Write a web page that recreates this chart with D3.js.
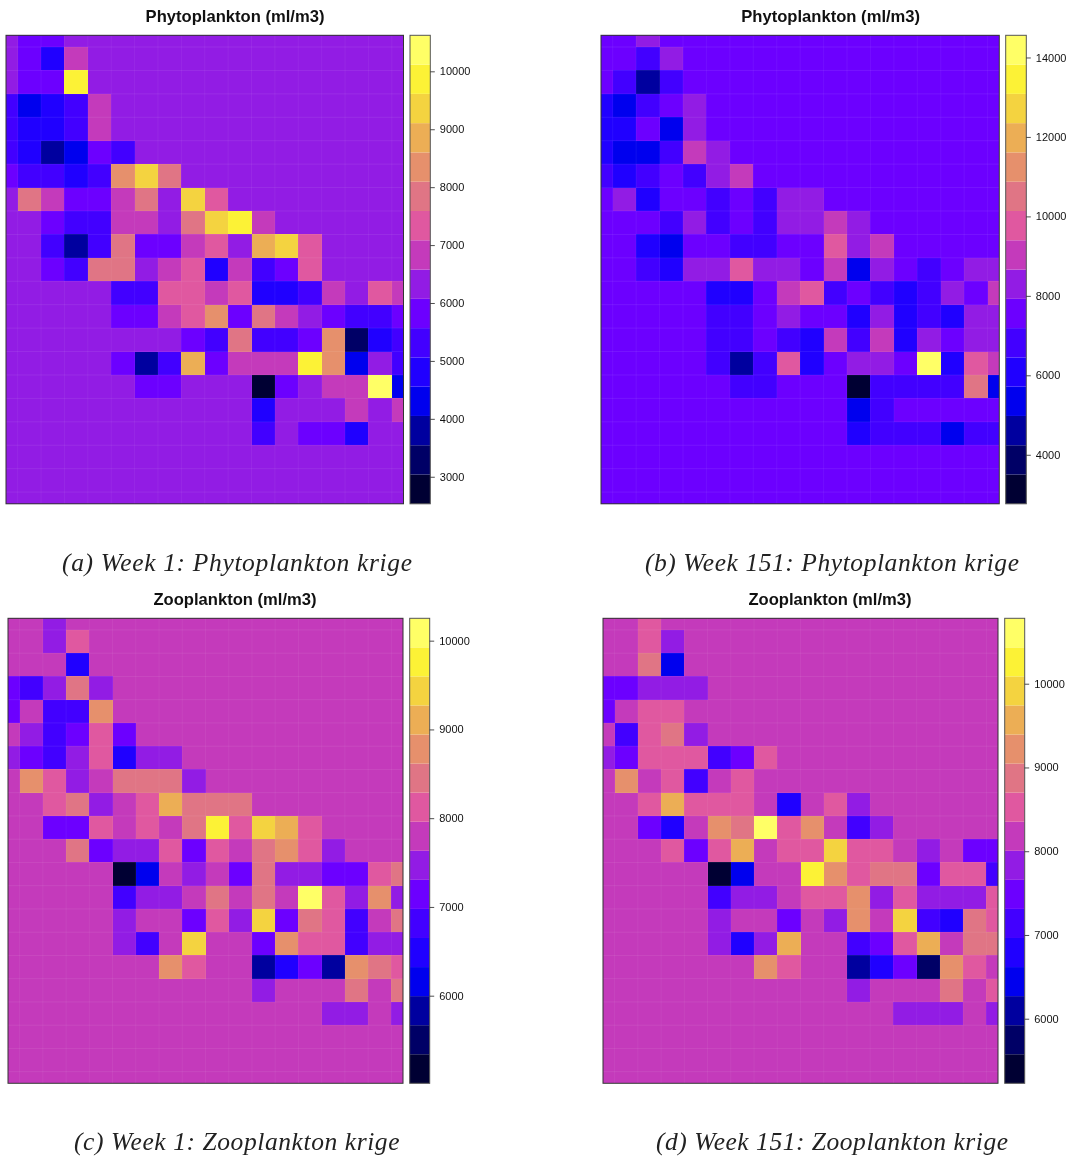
<!DOCTYPE html>
<html>
<head>
<meta charset="utf-8">
<style>
html,body{margin:0;padding:0;background:#fff;}
svg{display:block;filter:blur(0.3px);}
</style>
<script src="https://cdn.jsdelivr.net/npm/d3@7/dist/d3.min.js"></script>
</head>
<body>
<svg id="chart" width="1074" height="1160"></svg>
<script>
// Values are in hundreds of ml/m3.
const valueUnit = 100;

const phytoWeek1 = [
[63,58,58,63,63,63,63,63,63,63,63,63,63,63,63,63,63,63],
[63,58,48,68,63,63,63,63,63,63,63,63,63,63,63,63,63,63],
[63,58,58,99,63,63,63,63,63,63,63,63,63,63,63,63,63,63],
[53,43,48,53,68,63,63,63,63,63,63,63,63,63,63,63,63,63],
[53,48,48,53,68,63,63,63,63,63,63,63,63,63,63,63,63,63],
[53,48,38,43,58,53,63,63,63,63,63,63,63,63,63,63,63,63],
[58,53,53,48,53,83,94,78,63,63,63,63,63,63,63,63,63,63],
[63,78,68,58,58,68,78,63,94,73,63,63,63,63,63,63,63,63],
[63,63,58,53,53,68,68,63,78,94,99,68,63,63,63,63,63,63],
[63,63,53,38,53,78,58,58,68,73,63,89,94,73,63,63,63,63],
[63,63,58,53,78,78,63,68,73,48,68,53,58,73,63,63,63,63],
[63,63,63,63,63,53,53,73,73,68,73,48,48,53,68,63,73,68],
[63,63,63,63,63,58,58,68,73,83,58,78,68,63,58,53,53,58],
[63,63,63,63,63,63,63,63,58,53,78,53,53,58,83,33,48,53],
[63,63,63,63,63,58,38,53,89,58,68,68,68,99,83,43,63,53],
[63,63,63,63,63,63,58,58,63,63,63,28,58,63,68,68,104,43],
[63,63,63,63,63,63,63,63,63,63,63,48,63,63,63,68,63,68],
[63,63,63,63,63,63,63,63,63,63,63,53,63,58,58,48,63,63],
[63,63,63,63,63,63,63,63,63,63,63,63,63,63,63,63,63,63],
[63,63,63,63,63,63,63,63,63,63,63,63,63,63,63,63,63,63],
[63,63,63,63,63,63,63,63,63,63,63,63,63,63,63,63,63,63]
];

const phytoWeek151 = [
[76,76,83,76,76,76,76,76,76,76,76,76,76,76,76,76,76,76],
[76,76,68,83,76,76,76,76,76,76,76,76,76,76,76,76,76,76],
[76,68,46,68,76,76,76,76,76,76,76,76,76,76,76,76,76,76],
[61,53,68,76,83,76,76,76,76,76,76,76,76,76,76,76,76,76],
[61,61,76,53,83,76,76,76,76,76,76,76,76,76,76,76,76,76],
[61,53,53,68,90,83,76,76,76,76,76,76,76,76,76,76,76,76],
[68,61,68,76,68,83,90,76,76,76,76,76,76,76,76,76,76,76],
[76,83,61,76,76,68,76,68,83,83,76,76,76,76,76,76,76,76],
[76,76,76,68,83,68,76,68,83,83,90,83,76,76,76,76,76,76],
[76,76,61,53,76,76,68,68,76,76,98,83,90,76,76,76,76,76],
[76,76,68,61,83,83,98,83,83,76,90,53,83,76,68,76,83,83],
[76,76,76,76,76,61,61,76,90,98,68,76,68,61,68,83,76,90],
[76,76,76,76,76,68,68,76,83,76,76,61,83,61,68,61,83,83],
[76,76,76,76,76,68,68,76,68,61,90,68,90,61,83,76,83,83],
[76,76,76,76,76,68,46,68,98,61,76,83,83,76,142,61,98,90],
[76,76,76,76,76,76,68,68,76,76,76,31,68,68,68,68,105,53],
[76,76,76,76,76,76,76,76,76,76,76,53,68,76,76,76,76,76],
[76,76,76,76,76,76,76,76,76,76,76,61,68,68,68,53,68,68],
[76,76,76,76,76,76,76,76,76,76,76,76,76,76,76,76,76,76],
[76,76,76,76,76,76,76,76,76,76,76,76,76,76,76,76,76,76],
[76,76,76,76,76,76,76,76,76,76,76,76,76,76,76,76,76,76]
];

const zooWeek1 = [
[78,78,75,78,78,78,78,78,78,78,78,78,78,78,78,78,78,78],
[78,78,75,81,78,78,78,78,78,78,78,78,78,78,78,78,78,78],
[78,78,78,65,78,78,78,78,78,78,78,78,78,78,78,78,78,78],
[71,68,75,85,75,78,78,78,78,78,78,78,78,78,78,78,78,78],
[71,78,68,68,88,78,78,78,78,78,78,78,78,78,78,78,78,78],
[78,75,68,71,81,71,78,78,78,78,78,78,78,78,78,78,78,78],
[75,71,68,75,81,65,75,75,78,78,78,78,78,78,78,78,78,78],
[78,88,81,75,78,85,85,85,75,78,78,78,78,78,78,78,78,78],
[78,78,81,85,75,78,81,91,85,85,85,78,78,78,78,78,78,78],
[78,78,71,71,81,78,81,78,85,98,81,94,91,81,78,78,78,78],
[78,78,78,85,71,75,75,81,71,81,78,85,88,81,75,78,78,78],
[78,78,78,78,78,52,62,78,75,78,71,85,75,75,71,71,81,85],
[78,78,78,78,78,68,75,75,78,85,78,85,78,101,81,75,88,75],
[78,78,78,78,78,75,78,78,71,81,75,94,71,85,81,68,78,85],
[78,78,78,78,78,75,68,78,94,78,78,71,88,81,81,68,75,75],
[78,78,78,78,78,78,78,88,81,78,78,58,65,71,58,88,85,81],
[78,78,78,78,78,78,78,78,78,78,78,75,78,78,78,85,78,85],
[78,78,78,78,78,78,78,78,78,78,78,78,78,78,75,75,78,75],
[78,78,78,78,78,78,78,78,78,78,78,78,78,78,78,78,78,78],
[78,78,78,78,78,78,78,78,78,78,78,78,78,78,78,78,78,78],
[78,78,78,78,78,78,78,78,78,78,78,78,78,78,78,78,78,78]
];

const zooWeek151 = [
[82,82,85,82,82,82,82,82,82,82,82,82,82,82,82,82,82,82],
[82,82,85,78,82,82,82,82,82,82,82,82,82,82,82,82,82,82],
[82,82,89,64,82,82,82,82,82,82,82,82,82,82,82,82,82,82],
[75,75,78,78,78,82,82,82,82,82,82,82,82,82,82,82,82,82],
[75,82,85,85,82,82,82,82,82,82,82,82,82,82,82,82,82,82],
[82,71,85,89,78,82,82,82,82,82,82,82,82,82,82,82,82,82],
[78,75,85,85,85,71,75,85,82,82,82,82,82,82,82,82,82,82],
[82,92,82,85,71,82,85,82,82,82,82,82,82,82,82,82,82,82],
[82,82,85,96,85,85,85,82,68,82,85,78,82,82,82,82,82,82],
[82,82,75,68,82,92,89,106,85,92,82,71,78,82,82,82,82,82],
[82,82,82,85,75,85,96,82,85,85,99,85,85,82,78,82,75,75],
[82,82,82,82,82,54,64,82,82,103,92,85,89,89,75,85,85,71],
[82,82,82,82,82,71,78,78,82,85,85,92,78,85,78,78,78,85],
[82,82,82,82,82,78,82,82,75,82,78,92,82,99,71,68,89,85],
[82,82,82,82,82,78,68,78,96,82,82,71,75,85,96,82,89,89],
[82,82,82,82,82,82,82,92,85,82,82,61,68,75,58,92,85,82],
[82,82,82,82,82,82,82,82,82,82,82,78,82,82,82,89,82,85],
[82,82,82,82,82,82,82,82,82,82,82,82,82,78,78,78,82,78],
[82,82,82,82,82,82,82,82,82,82,82,82,82,82,82,82,82,82],
[82,82,82,82,82,82,82,82,82,82,82,82,82,82,82,82,82,82],
[82,82,82,82,82,82,82,82,82,82,82,82,82,82,82,82,82,82]
];

const panelValues = [phytoWeek1, phytoWeek151, zooWeek1, zooWeek151];
const panelTitles = ["Phytoplankton (ml/m3)", "Phytoplankton (ml/m3)", "Zooplankton (ml/m3)", "Zooplankton (ml/m3)"];
const panelCaptions = ["(a) Week 1: Phytoplankton krige", "(b) Week 151: Phytoplankton krige", "(c) Week 1: Zooplankton krige", "(d) Week 151: Zooplankton krige"];
const legendDomains = [[2533, 10622], [2766, 14558], [5013, 10252], [5229, 10781]];
const legendTicks = [
  [3000, 4000, 5000, 6000, 7000, 8000, 9000, 10000],
  [4000, 6000, 8000, 10000, 12000, 14000],
  [6000, 7000, 8000, 9000, 10000],
  [6000, 7000, 8000, 9000, 10000]
];
const palette = ["#000033", "#000066", "#00009f", "#0000ee", "#2000ff", "#4200ff", "#6c00ff", "#921ce4",
                 "#c43abb", "#e058a0", "#e07585", "#e6906c", "#ecae55", "#f4d340", "#fcf236", "#ffff66"];

// Layout: [left, right, top, bottom] of each map, colour bar [left, right], title / caption placement.
const mapBoxes = [[6, 403.5, 35.3, 503.8], [601, 999.3, 35.3, 503.8], [8, 403, 618.3, 1083.3], [603, 998, 618.3, 1083.3]];
const barBoxes = [[410, 430.3], [1005.7, 1026.3], [409.7, 429.7], [1004.7, 1024.7]];
const titleCentres = [[235, 21.5], [830.7, 21.5], [235, 604.5], [830, 604.5]];
const captionBoxes = [[62, 412, 571], [645, 1019, 571], [74, 399.5, 1150], [656, 1008, 1150]];

const svg = d3.select("#chart");

panelValues.forEach((rows, p) => {
  const [left, right, top, bottom] = mapBoxes[p];
  const nCols = rows[0].length, nRows = rows.length;
  const x = d3.scaleLinear().domain([0, nCols - 1]).range([left, right]).clamp(true);
  const y = d3.scaleLinear().domain([0, nRows - 1]).range([top, bottom]).clamp(true);
  const colour = d3.scaleQuantize().domain(legendDomains[p]).range(palette);
  const cells = rows.flatMap((row, r) => row.map((v, c) => ({r, c, v: v * valueUnit})));
  const g = svg.append("g");

  g.selectAll("rect.cell").data(cells).join("rect")
    .attr("class", "cell")
    .attr("x", d => x(d.c - 0.5))
    .attr("y", d => y(d.r - 0.5))
    .attr("width", d => x(d.c + 0.5) - x(d.c - 0.5))
    .attr("height", d => y(d.r + 0.5) - y(d.r - 0.5))
    .attr("fill", d => colour(d.v))
    .attr("shape-rendering", "crispEdges");

  // faint seams between cells
  g.selectAll("line.vs").data(d3.range(nCols - 1)).join("line")
    .attr("x1", i => x(i + 0.5)).attr("x2", i => x(i + 0.5))
    .attr("y1", top).attr("y2", bottom)
    .attr("stroke", "#fff").attr("stroke-opacity", 0.07).attr("stroke-width", 0.8);
  g.selectAll("line.hs").data(d3.range(nRows - 1)).join("line")
    .attr("y1", i => y(i + 0.5)).attr("y2", i => y(i + 0.5))
    .attr("x1", left).attr("x2", right)
    .attr("stroke", "#fff").attr("stroke-opacity", 0.1).attr("stroke-width", 0.8);

  g.append("rect")
    .attr("x", left).attr("y", top)
    .attr("width", right - left).attr("height", bottom - top)
    .attr("fill", "none").attr("stroke", "#333").attr("stroke-width", 1);

  // colour bar
  const [barL, barR] = barBoxes[p];
  const barScale = d3.scaleLinear().domain(legendDomains[p]).range([bottom, top]);
  const bands = palette.map(c => colour.invertExtent(c));
  g.selectAll("rect.band").data(bands).join("rect")
    .attr("class", "band")
    .attr("x", barL).attr("width", barR - barL)
    .attr("y", d => barScale(d[1]))
    .attr("height", d => barScale(d[0]) - barScale(d[1]))
    .attr("fill", (d, i) => palette[i]);
  g.append("rect")
    .attr("x", barL).attr("y", top)
    .attr("width", barR - barL).attr("height", bottom - top)
    .attr("fill", "none").attr("stroke", "#555").attr("stroke-width", 1);

  const axis = d3.axisRight(barScale).tickValues(legendTicks[p]).tickFormat(d3.format("d")).tickSize(4.5).tickPadding(5);
  const ag = g.append("g").attr("transform", `translate(${barR},0)`).call(axis);
  ag.select(".domain").remove();
  ag.selectAll("line").attr("stroke", "#222").attr("stroke-width", 0.8);
  ag.selectAll("text").attr("fill", "#111").attr("font-family", "Liberation Sans").attr("font-size", 11);

  // title and caption
  const [tx, ty] = titleCentres[p];
  g.append("text").attr("x", tx).attr("y", ty + 0.5).attr("text-anchor", "middle")
    .attr("font-family", "Liberation Sans").attr("font-weight", "bold").attr("font-size", 16.6)
    .attr("fill", "#111").text(panelTitles[p]);

  const [cL, cR, cY] = captionBoxes[p];
  g.append("text").attr("x", cL).attr("y", cY)
    .attr("font-family", "Liberation Serif").attr("font-style", "italic").attr("font-size", 25.5)
    .attr("fill", "#222").attr("textLength", cR - cL).attr("lengthAdjust", "spacing")
    .text(panelCaptions[p]);
});
</script>
</body>
</html>
